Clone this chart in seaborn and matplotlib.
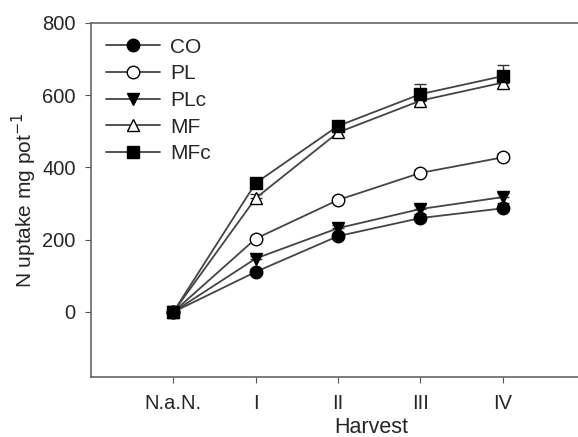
import numpy as np
import pandas as pd
import matplotlib
matplotlib.use("Agg")
import matplotlib.pyplot as plt
import seaborn as sns

sns.set_style("ticks")
plt.rcParams['font.family'] = ['Liberation Sans', 'DejaVu Sans']

harvest = ["N.a.N.", "I", "II", "III", "IV"]
co  = [0, 111, 210, 260, 287]
pl  = [0, 203, 310, 385, 428]
plc = [0, 148, 232, 285, 318]
mf  = [0, 315, 497, 585, 635]
mfc = [0, 357, 515, 603, 653]
err_co  = [0, 8, 8, 12, 14]
err_pl  = [0, 8, 8, 8, 8]
err_plc = [0, 8, 10, 12, 12]
err_mf  = [0, 12, 12, 14, 14]
err_mfc = [0, 12, 14, 28, 30]

series = [
    ("CO", co, err_co, "o", "black"),
    ("PL", pl, err_pl, "o", "white"),
    ("PLc", plc, err_plc, "v", "black"),
    ("MF", mf, err_mf, "^", "white"),
    ("MFc", mfc, err_mfc, "s", "black"),
]

fig = plt.figure(figsize=(5.78, 4.37), dpi=100)
ax = fig.add_axes([91/578, 1-377/437, 560/578, (377-23)/437])

xpos = np.arange(len(harvest))
for name, vals, err, mk, fc in series:
    df = pd.DataFrame({"x": xpos, "y": vals})
    ax.errorbar(xpos, vals, yerr=[np.zeros(len(err)), err], fmt="none",
                ecolor="#333333", elinewidth=1, capsize=4, capthick=1, zorder=2)
    sns.lineplot(data=df, x="x", y="y", ax=ax, color="#444444", linewidth=1.3,
                 marker=mk, markersize=9 if mk != "s" else 8,
                 markerfacecolor=fc, markeredgecolor="black",
                 markeredgewidth=1, label=name, zorder=3)

ax.set_xlim(-1, 5.8)
ax.set_ylim(-180, 800)
ax.set_xticks(xpos)
ax.set_xticklabels(harvest)
ax.set_yticks([0, 200, 400, 600, 800])
ax.tick_params(labelsize=14.5, length=4, color="#555555", pad=7)
ax.tick_params(axis="x", pad=8)
for s in ax.spines.values():
    s.set_color("#666666")
    s.set_linewidth(1.2)
ax.set_xlabel("Harvest", fontsize=15.5, labelpad=3)
ax.set_ylabel("N uptake mg pot$^{-1}$", fontsize=15, labelpad=2)

leg = ax.legend(loc="upper left", frameon=False, fontsize=15, handlelength=2.6,
                handletextpad=0.5, labelspacing=0.37,
                bbox_to_anchor=(0.0, 1.0), borderaxespad=0.3)

fig.savefig("out.png", dpi=100)
